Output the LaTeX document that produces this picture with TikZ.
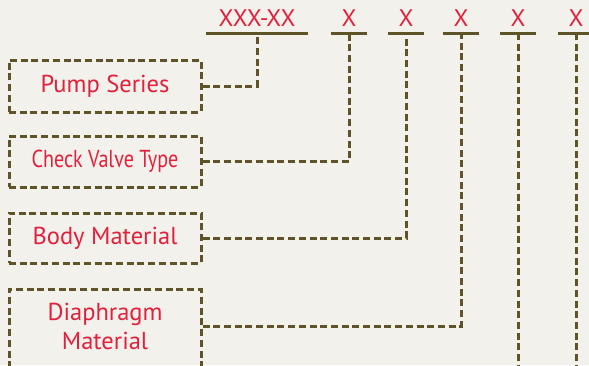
\documentclass[tikz,border=0pt]{standalone}
\usepackage{fontspec}
\setmainfont{PT Sans}
\usetikzlibrary{positioning}
\definecolor{paper}{HTML}{F2F1EC}
\definecolor{codered}{HTML}{E2203C}
\definecolor{leader}{HTML}{5E5428}
\tikzset{
  partbox/.style={draw=leader, line width=3pt, dash pattern=on 7pt off 3.7pt,
    minimum width=192pt, inner sep=0pt, text=codered, align=center,
    font=\fontsize{24.5}{29}\selectfont},
  code/.style={text=codered, font=\fontsize{24}{26}\selectfont,
    inner xsep=0pt, inner ysep=6pt, text depth=0pt, anchor=south},
  uline/.style={draw=leader, line width=3pt},
  leadline/.style={draw=leader, line width=3pt, dash pattern=on 7pt off 3.7pt},
}
\begin{document}
\begin{tikzpicture}[x=1pt,y=-1pt]
\fill[paper] (0,0) rectangle (589,365);
\useasboundingbox (0,0) rectangle (589,365);
% code line at the top
\node[code, minimum width=102pt] (series) at (257,33) {XXX-XX};
\draw[uline] (series.south west) -- (series.south east);
\foreach \cx [count=\i] in {349,406,461,518,576} {
  \node[code, minimum width=36pt] (x\i) at (\cx,33) {X};
  \draw[uline] (x\i.south west) -- (x\i.south east);
}
% boxes
\node[partbox, minimum height=52pt] (pump) at (105,86) {Pump Series};
\node[partbox, minimum height=51pt] (check) at (105,161.5) {\scalebox{0.82}[1]{Check Valve Type}};
\node[partbox, minimum height=50pt] (body) at (105,238) {Body Material};
\node[partbox, minimum height=90pt, anchor=north] (diaph) at (105,288) {};
\node[text=codered, align=center, font=\fontsize{24.5}{29}\selectfont] (diaphtext) at (105,326) {Diaphragm\\Material};
\coordinate (bottom) at (0,370);
% leaders
\draw[leadline] (pump.east) -| (series.south);
\draw[leadline] (check.east) -| (x1.south);
\draw[leadline] (body.east) -| (x2.south);
\draw[leadline] (diaph.east |- diaphtext) -| (x3.south);
\draw[leadline] (x4.south) -- (x4.south |- bottom);
\draw[leadline] (x5.south) -- (x5.south |- bottom);
\end{tikzpicture}
\end{document}
